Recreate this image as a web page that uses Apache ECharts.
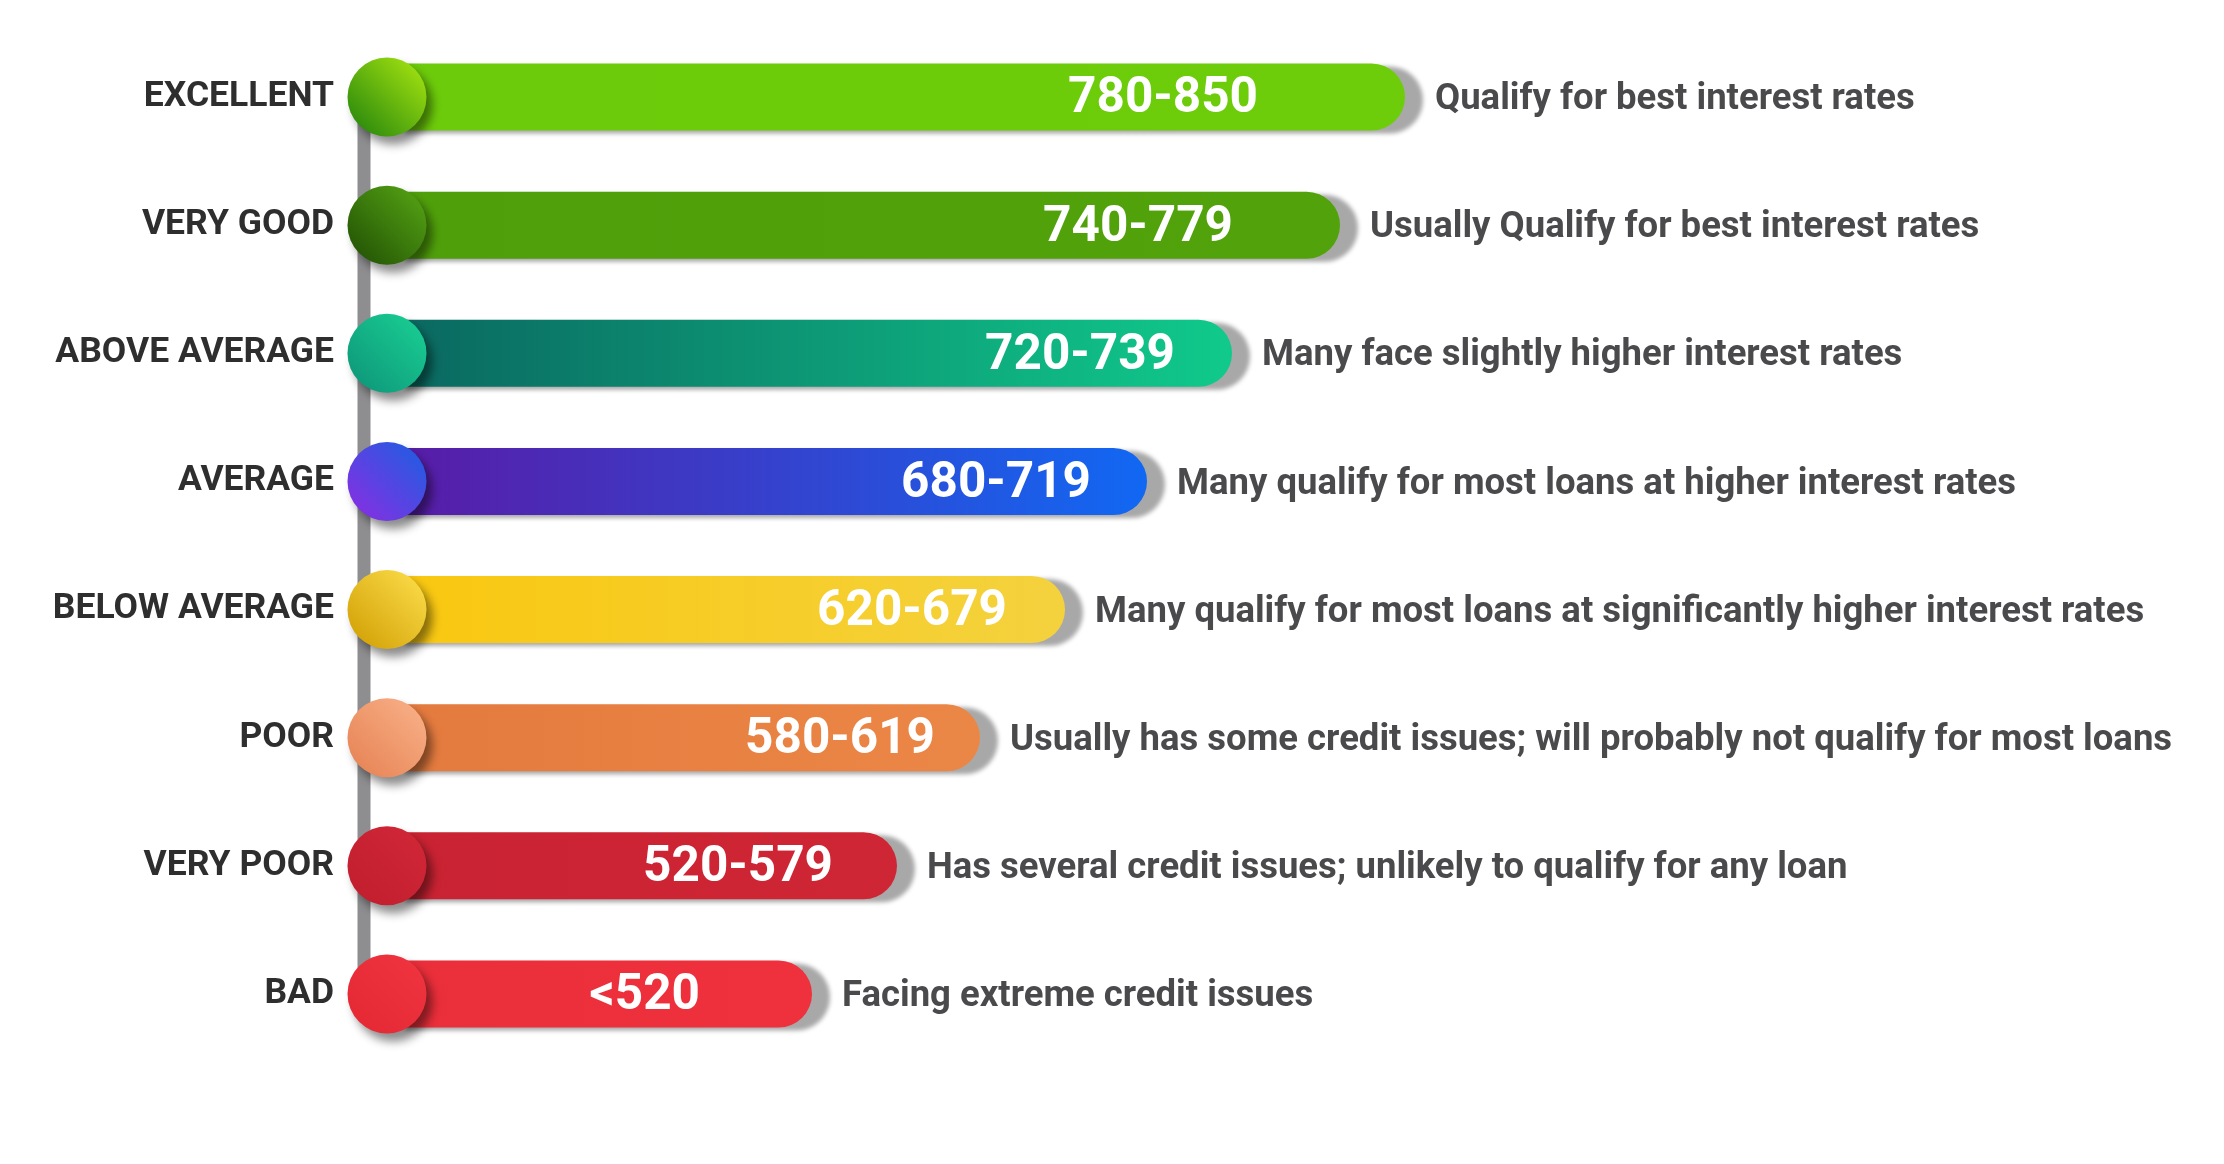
<!DOCTYPE html>
<html><head><meta charset="utf-8">
<script src="https://cdn.jsdelivr.net/npm/echarts@6/dist/echarts.min.js"></script>
<style>html,body{margin:0;padding:0;background:#fff}#chart{width:2224px;height:1164px}</style>
</head><body><div id="chart"></div>
<script>
// ---- data ----
const categories = ['EXCELLENT','VERY GOOD','ABOVE AVERAGE','AVERAGE','BELOW AVERAGE','POOR','VERY POOR','BAD'];
const scoreRanges = ['780-850','740-779','720-739','680-719','620-679','580-619','520-579','<520'];
const descriptions = [
  'Qualify for best interest rates',
  'Usually Qualify for best interest rates',
  'Many face slightly higher interest rates',
  'Many qualify for most loans at higher interest rates',
  'Many qualify for most loans at significantly higher interest rates',
  'Usually has some credit issues; will probably not qualify for most loans',
  'Has several credit issues; unlikely to qualify for any loan',
  'Facing extreme credit issues'
];
const barLengths = [1018, 953, 845, 760, 678, 593, 510, 425];

// ---- styles ----
const FONT = "Roboto, 'Liberation Sans', sans-serif";
const barColors = [
  ['#6ccb0a','#6ecd0a'],
  ['#4f9f0a','#52a20b'],
  ['#0a6660','#10ca8b'],
  ['#5a1aa5','#1168f3'],
  ['#f9c70f','#f4d23e'],
  ['#e47a3e','#eb8746'],
  ['#c92232','#cf2635'],
  ['#ea2e3a','#ee313d']
];
const dotColors = [
  ['#33900d','#98da10'],
  ['#275a06','#4f9a12'],
  ['#0f9c7c','#18c890'],
  ['#7d33e2','#2a58e2'],
  ['#d6a60c','#f7d642'],
  ['#e8885a','#f7ab82'],
  ['#c21f2f','#cf2636'],
  ['#e52a36','#ee333e']
];
const rangeInset = [147, 107, 57, 56, 58, 45, 64, 112];

function hGrad(c){ return new echarts.graphic.LinearGradient(0,0,1,0,[{offset:0,color:c[0]},{offset:1,color:c[1]}]); }
function dGrad(c){ return new echarts.graphic.LinearGradient(0,1,1,0,[{offset:0.15,color:c[0]},{offset:0.85,color:c[1]}]); }

const chart = echarts.init(document.getElementById('chart'));
chart.setOption({
  animation: false,
  backgroundColor: '#ffffff',
  grid: { left: 357, right: 37, top: 33, bottom: 106 },
  xAxis: { type: 'value', min: -30, max: 1800, show: false },
  yAxis: {
    type: 'category', data: categories, inverse: true,
    axisLine: { show: false }, axisTick: { show: false }, splitLine: { show: false },
    axisLabel: { margin: 23, padding: [8, 0, 0, 0], fontFamily: FONT, fontWeight: 'bold', fontSize: 35.5, color: '#2e2e2e' }
  },
  series: [
    {
      type: 'line', z: 0, silent: true, symbol: 'none',
      data: [[-23, categories[0]], [-23, categories[categories.length - 1]]],
      lineStyle: { color: '#8e8e91', width: 13 }
    },
    {
      type: 'bar', z: 2, barWidth: 67,
      data: barLengths.map((v, i) => ({
        value: v,
        itemStyle: { color: hGrad(barColors[i]) },
        label: { distance: rangeInset[i] }
      })),
      itemStyle: {
        borderRadius: [0, 34, 34, 0],
        shadowColor: 'rgba(0,0,0,0.34)', shadowBlur: 4, shadowOffsetX: 18, shadowOffsetY: 3
      },
      label: {
        show: true, position: 'insideRight', offset: [0, 3],
        formatter: p => scoreRanges[p.dataIndex],
        color: '#ffffff', fontFamily: FONT, fontWeight: 'bold', fontSize: 49.5
      }
    },
    {
      type: 'bar', z: 1, barWidth: 67, barGap: '-100%', silent: true,
      data: barLengths,
      itemStyle: { color: 'rgba(0,0,0,0)' },
      label: {
        show: true, position: 'right', distance: 30, offset: [0, 3],
        formatter: p => descriptions[p.dataIndex],
        color: '#4a4a4c', fontFamily: FONT, fontWeight: 'bold', fontSize: 36.5
      }
    },
    {
      type: 'scatter', z: 5, symbol: 'circle', symbolSize: 79, silent: true,
      data: categories.map((c, i) => ({ value: [0, c], itemStyle: { color: dGrad(dotColors[i]) } })),
      itemStyle: { opacity: 1, shadowColor: 'rgba(0,0,0,0.45)', shadowBlur: 10, shadowOffsetX: 6, shadowOffsetY: 8 }
    }
  ]
});
</script>
</body></html>
